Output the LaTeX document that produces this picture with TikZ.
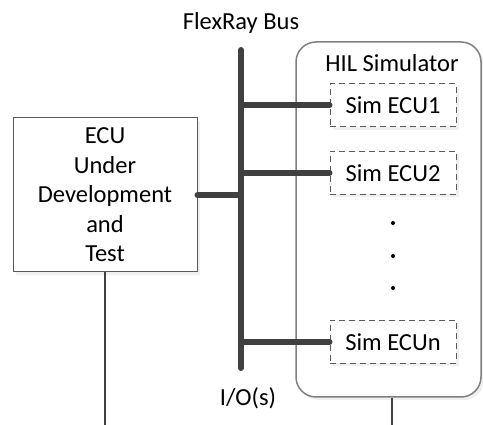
\documentclass[tikz,border=0pt]{standalone}
\usepackage{fontspec}
\setmainfont{Carlito}
\usetikzlibrary{positioning,shadows}
\definecolor{busgray}{HTML}{404040}
\definecolor{linegray}{HTML}{5A5A5A}

\begin{document}
\begin{tikzpicture}[
            x=1pt, y=-1pt,
            font=\fontsize{24.5}{29.5}\selectfont,
            box/.style={draw=linegray, line width=1pt, fill=white, align=center, inner sep=0pt,
                drop shadow={shadow xshift=3pt, shadow yshift=-3pt, opacity=0.12}},
            simbox/.style={box, dashed, dash pattern=on 6pt off 4pt, minimum width=126pt, minimum height=43pt},
            bus/.style={draw=busgray, line width=6pt, line cap=round},
            wire/.style={draw=busgray, line width=2pt}
        ]
        \useasboundingbox (0,0) rectangle (483,425);

        \node[box, rounded corners=20pt, draw=gray, line width=1.5pt, minimum width=185pt, minimum height=355pt] (hil) at (388.5,219.5) {};
        \node (hiltitle) at (392,63) {HIL Simulator};
        \node[simbox] (sim1) at (393,105.5) {Sim ECU1};
        \node[simbox] (sim2) at (393,173) {Sim ECU2};
        \node[simbox] (simn) at (393,342) {Sim ECUn};
        \foreach \y in {223,256,288}
            \fill (393,\y) circle (2pt);

        \node[box, minimum width=184pt, minimum height=154pt] (ecu) at (105,195) {ECU\\Under\\Development\\and\\Test};

        \coordinate (bustop) at (241,50);
        \coordinate (busbot) at (241,368);
        \node (flexray) at (241,23) {FlexRay Bus};
        \node (io) at (248,398) {I/O(s)};

        \draw[bus] (bustop) -- (busbot);
        \draw[bus] (ecu.east) -- (ecu.east -| bustop);
        \draw[bus] (sim1.west -| bustop) -- (sim1.west);
        \draw[bus] (sim2.west -| bustop) -- (sim2.west);
        \draw[bus] (simn.west -| bustop) -- (simn.west);

        \coordinate (ecuout) at (105,425);
        \coordinate (hilout) at (392,425);
        \draw[wire] (ecu.south) -- (ecuout);
        \draw[wire] (hil.south -| hilout) -- (hilout);
    \end{tikzpicture}
\end{document}
